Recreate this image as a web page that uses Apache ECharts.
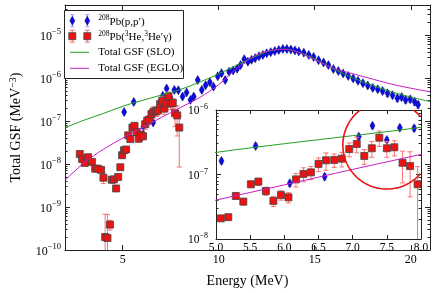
<!DOCTYPE html>
<html><head><meta charset="utf-8">
<script src="https://cdn.jsdelivr.net/npm/echarts@6/dist/echarts.min.js"></script>
<style>html,body{margin:0;padding:0;background:#fff}#c{width:436px;height:293px}</style>
</head><body><div id="c"></div>
<script>
// ---------------- data ----------------
const redE = [2.77,2.89,3.03,3.20,3.40,3.57,3.71,3.88,4.00,4.09,4.21,4.34,4.43,4.55,4.66,4.77,4.88,4.97,5.07,5.18,5.29,5.40,5.51,5.62,5.73,5.84,5.95,6.06,6.17,6.28,6.39,6.50,6.61,6.73,6.84,6.95,7.06,7.17,7.28,7.39,7.50,7.61,7.73,7.84,7.95];
const redV = [1.71e-8,1.31e-8,1.06e-8,1.44e-8,1.12e-8,7.8e-9,7.8e-9,7.3e-9,4.8e-9,2.0e-10,1.9e-10,3.9e-10,4.3e-9,4.4e-9,2.7e-9,5.0e-9,8.4e-9,1.6e-8,2.09e-8,2.18e-8,4.65e-8,3.8e-8,7.05e-8,7.75e-8,5.55e-8,3.9e-8,4.8e-8,4.43e-8,8.4e-8,1.02e-7,1.08e-7,1.46e-7,1.66e-7,1.68e-7,1.76e-7,2.48e-7,2.97e-7,1.94e-7,2.55e-7,3.72e-7,2.55e-7,2.64e-7,1.52e-7,1.35e-7,7.05e-8];
const redErr = [1.5e-9,1.5e-9,1.5e-9,2e-9,1.5e-9,1e-9,1e-9,1e-9,1.3e-9,4.8e-10,4.8e-10,1e-10,4e-10,4e-10,3e-10,5e-10,8e-10,1.5e-9,2e-9,2e-9,5e-9,4.5e-9,8e-9,1e-8,8e-9,7e-9,8e-9,8e-9,2e-8,2.5e-8,2.5e-8,3.5e-8,5e-8,4e-8,4.5e-8,6e-8,8e-8,5e-8,7e-8,1e-7,7e-8,7e-8,7.8e-8,9e-8,6.2e-8];

const blueE = [5.08,5.58,6.08,6.59,7.09,7.29,7.50,7.69,7.90,8.12,8.33,8.53,8.70,8.91,9.12,9.32,9.54,9.73,9.95,10.15,10.34,10.54,10.75,10.96,11.14,11.33,11.52,11.71,11.90,12.10,12.30,12.50,12.71,12.92,13.13,13.34,13.55,13.76,13.97,14.17,14.43,14.69,14.94,15.20,15.46,15.71,15.97,16.23,16.48,16.74,17.00,17.25,17.51,17.76,18.02,18.28,18.53,18.79,19.05,19.30,19.52,19.73,19.97,20.20,20.38];
const blueV = [1.62e-7,2.77e-7,7.3e-8,9.25e-8,3.86e-7,5.71e-7,3.43e-7,5.3e-7,5.2e-7,3.7e-7,4.6e-7,3.1e-7,3.7e-7,9.0e-7,5.3e-7,6.8e-7,8.0e-7,6.3e-7,1.1e-6,1.3e-6,9.0e-7,1.4e-6,1.5e-6,1.65e-6,2.0e-6,2.75e-6,2.4e-6,2.65e-6,2.9e-6,3.2e-6,3.45e-6,3.75e-6,4.0e-6,4.25e-6,4.5e-6,4.75e-6,4.75e-6,4.6e-6,4.4e-6,4.16e-6,3.9e-6,3.45e-6,3.1e-6,2.6e-6,2.3e-6,2.0e-6,1.62e-6,1.45e-6,1.28e-6,1.12e-6,9.8e-7,8.6e-7,7.6e-7,6.7e-7,5.9e-7,5.5e-7,5.0e-7,4.4e-7,4.0e-7,3.4e-7,3.6e-7,3.1e-7,3.2e-7,2.8e-7,2.4e-7];
const blueErr = [1.5e-8,2.5e-8,8e-9,1e-8,3.5e-8,5e-8,3e-8,5e-8,5e-8,3.5e-8,4e-8,3e-8,3.5e-8,8e-8,5e-8,6e-8,7e-8,6e-8,1e-7,1.2e-7,8e-8,1.3e-7,1.4e-7,1.5e-7,1.8e-7,2.5e-7,2.2e-7,2.4e-7,2.6e-7,2.9e-7,3.1e-7,3.4e-7,3.6e-7,3.8e-7,4e-7,4.3e-7,4.3e-7,4.1e-7,4e-7,3.7e-7,3.5e-7,3.1e-7,2.8e-7,2.3e-7,2.1e-7,1.8e-7,1.5e-7,1.3e-7,1.2e-7,1.1e-7,1e-7,9e-8,9e-8,8e-8,7e-8,7e-8,7e-8,7e-8,6e-8,6e-8,6e-8,5e-8,5e-8,5e-8,4e-8];

const curveE = [2,3,4,5,6,7,8,9,10,11,12,13,13.5,14,15,16,17,18,19,20,21];
const sloV   = [7.0e-8,1.05e-7,1.5e-7,2.2e-7,3.0e-7,4.0e-7,5.4e-7,8.0e-7,1.25e-6,2.05e-6,3.3e-6,4.6e-6,4.7e-6,4.2e-6,2.8e-6,1.62e-6,1.0e-6,6.8e-7,4.8e-7,3.6e-7,2.85e-7];
const egloV  = [4.2e-9,1.07e-8,2.2e-8,4.0e-8,6.9e-8,1.2e-7,2.05e-7,3.5e-7,7.0e-7,1.75e-6,3.5e-6,4.55e-6,4.65e-6,4.2e-6,2.65e-6,1.68e-6,1.25e-6,9.5e-7,7.2e-7,5.8e-7,4.8e-7];

const circleCenter = [[7.5, 2.86e-7]];

const xTicksMain = [5,10,15,20];
const yTicksMain = [1e-10,1e-9,1e-8,1e-7,1e-6,1e-5];
const yTicksInset = [1e-8,1e-7,1e-6];
const legendNames = ['{s|208}{b|Pb(p,p′)}','{s|208}{b|Pb(}{s|3}{b|He,}{s|3}{b|He′γ)}','Total GSF (SLO)','Total GSF (EGLO)'];

// ---------------- helpers ----------------
const FONT = 'Liberation Serif';
const MAIN = {xmin:2, xmax:21, ymin:1e-10, ymax:5e-5};
const INS = {xmin:5, xmax:8, ymin:1e-8, ymax:1e-6};
function minorTicks(lo, hi){
  const out=[];
  for(let k=Math.floor(Math.log10(lo)); k<=Math.ceil(Math.log10(hi)); k++){
    for(let m=2;m<=9;m++){ const v=m*Math.pow(10,k); if(v>lo && v<hi) out.push(v); }
  }
  return out;
}
const supRich = {
  b:{fontSize:12, fontFamily:FONT, color:'#000', verticalAlign:'bottom'},
  s:{fontSize:8.5, fontFamily:FONT, color:'#000', verticalAlign:'top', padding:[0,0,6,0]}
};
const supRichSmall = {
  b:{fontSize:11.5, fontFamily:FONT, color:'#000', verticalAlign:'bottom'},
  s:{fontSize:8, fontFamily:FONT, color:'#000', verticalAlign:'top', padding:[0,0,6,0]}
};
function powLabel(v){ const e=Math.round(Math.log10(v)); return '{b|10}{s|−'+(-e)+'}'; }
const LINE = {show:true, onZero:false, lineStyle:{color:'#222', width:1}};
const NOLINE = {show:false, onZero:false};
function ax(o){ return Object.assign({splitLine:{show:false}, minorTick:{show:false}, minorSplitLine:{show:false}, axisPointer:{show:false}}, o); }

function errSeries(xi, yi, E, V, Err, color, capHalf, lim, z){
  return {
    type:'custom', xAxisIndex:xi, yAxisIndex:yi, clip:true, z:z, silent:true,
    data:E.map((e,i)=>[e,V[i],Err[i]]),
    encode:{x:0,y:1},
    renderItem:function(params, api){
      const x=api.value(0), v=api.value(1), er=api.value(2);
      if(x<lim.xmin || x>lim.xmax) return null;
      let hiV=v+er, loV=v-er; let capHi=true, capLo=true;
      if(hiV>lim.ymax){hiV=lim.ymax; capHi=false;}
      if(!(loV>lim.ymin)){loV=lim.ymin; capLo=false;}
      const pH=api.coord([x,hiV]), pL=api.coord([x,loV]);
      const cx=pH[0];
      const st={stroke:color, lineWidth:1};
      const ch=[{type:'line', shape:{x1:cx,y1:pH[1],x2:cx,y2:pL[1]}, style:st}];
      if(capHi) ch.push({type:'line', shape:{x1:cx-capHalf,y1:pH[1],x2:cx+capHalf,y2:pH[1]}, style:st});
      if(capLo) ch.push({type:'line', shape:{x1:cx-capHalf,y1:pL[1],x2:cx+capHalf,y2:pL[1]}, style:st});
      return {type:'group', children:ch};
    }
  };
}
function seriesSet(xi, yi, lim, zb){
  return [
    errSeries(xi, yi, blueE, blueV, blueErr, '#9a9aff', 2, lim, zb),
    {type:'scatter', xAxisIndex:xi, yAxisIndex:yi, z:zb+1, silent:true, clip:true,
     data:blueE.map((e,i)=>[e,blueV[i]]), symbol:'diamond', symbolSize:[5,9],
     itemStyle:{color:'#0a0aee', borderColor:'#000060', borderWidth:0.5, opacity:1}},
    errSeries(xi, yi, redE, redV, redErr, '#ff7070', 2.5, lim, zb+2),
    {type:'scatter', xAxisIndex:xi, yAxisIndex:yi, z:zb+3, silent:true, clip:true,
     data:redE.map((e,i)=>[e,redV[i]]), symbol:'rect', symbolSize:7,
     itemStyle:{color:'#ee1111', borderColor:'#444', borderWidth:0.8, opacity:1}},
    {type:'line', xAxisIndex:xi, yAxisIndex:yi, z:zb+4, silent:true, smooth:0.35, showSymbol:false, clip:true,
     data:curveE.map((e,i)=>[e,sloV[i]]), lineStyle:{color:'#22a022', width:1}},
    {type:'line', xAxisIndex:xi, yAxisIndex:yi, z:zb+4, silent:true, smooth:0.35, showSymbol:false, clip:true,
     data:curveE.map((e,i)=>[e,egloV[i]]), lineStyle:{color:'#c81ec8', width:1}}
  ];
}

const tickSt = {lineStyle:{color:'#222', width:1}};
const xAxes = [
  ax({type:'value', gridIndex:0, position:'bottom', min:MAIN.xmin, max:MAIN.xmax, axisLine:LINE,
      axisTick:Object.assign({inside:true, length:5, customValues:xTicksMain}, tickSt),
      axisLabel:{customValues:xTicksMain, margin:4, fontFamily:FONT, fontSize:12, color:'#000'},
      name:'Energy (MeV)', nameLocation:'middle', nameGap:24,
      nameTextStyle:{fontFamily:FONT, fontSize:14, color:'#000'}}),
  ax({type:'value', gridIndex:0, position:'top', min:MAIN.xmin, max:MAIN.xmax, axisLine:LINE,
      axisTick:Object.assign({inside:true, length:5, customValues:xTicksMain}, tickSt),
      axisLabel:{show:false}}),
  ax({type:'value', gridIndex:1, position:'bottom', min:INS.xmin, max:INS.xmax, interval:0.5, z:11, axisLine:LINE,
      axisTick:Object.assign({inside:true, length:4}, tickSt),
      axisLabel:{margin:3, fontFamily:FONT, fontSize:11.5, color:'#000', formatter:v=>v.toFixed(1)}}),
  ax({type:'value', gridIndex:1, position:'top', min:INS.xmin, max:INS.xmax, interval:0.5, z:11, axisLine:LINE,
      axisTick:Object.assign({inside:true, length:4}, tickSt), axisLabel:{show:false}})
];
function yPair(grid, pos, lim, major, labels, z, extra){
  return [
    ax(Object.assign({type:'log', logBase:10, gridIndex:grid, position:pos, min:lim.ymin, max:lim.ymax, z:z, axisLine:LINE,
        axisTick:Object.assign({inside:true, length:5, customValues:major}, tickSt),
        axisLabel:labels}, extra||{})),
    ax({type:'log', logBase:10, gridIndex:grid, position:pos, min:lim.ymin, max:lim.ymax, z:z, axisLine:NOLINE,
        axisTick:Object.assign({inside:true, length:2.5, customValues:minorTicks(lim.ymin, lim.ymax)}, tickSt),
        axisLabel:{show:false}})
  ];
}
const yAxes = [].concat(
  yPair(0,'left',MAIN,yTicksMain,{customValues:yTicksMain, formatter:powLabel, rich:supRich, margin:4}, 0,
    {name:'Total GSF (MeV{s|−3})', nameLocation:'middle', nameGap:40,
     nameTextStyle:{fontFamily:FONT, fontSize:14, color:'#000',
       rich:{s:{fontSize:10, fontFamily:FONT, color:'#000', verticalAlign:'top', padding:[0,0,7,0]}}}}),
  yPair(0,'right',MAIN,yTicksMain,{show:false}, 0),
  yPair(1,'left',INS,yTicksInset,{customValues:yTicksInset, formatter:powLabel, rich:supRichSmall, margin:8}, 11),
  yPair(1,'right',INS,yTicksInset,{show:false}, 11)
);

// circle drawn around a data point, clipped to the inset plot area
function circleRender(params, api){
  const p=api.coord([api.value(0), api.value(1)]);
  const cs=params.coordSys, r=44;
  const inside=(x,y)=> x>=cs.x && x<=cs.x+cs.width && y>=cs.y && y<=cs.y+cs.height;
  const N=240, pts=[];
  for(let i=0;i<N;i++){ const a=i/N*2*Math.PI; pts.push([p[0]+r*Math.cos(a), p[1]+r*Math.sin(a)]); }
  let start=pts.findIndex(q=>!inside(q[0],q[1]));
  const runs=[];
  if(start<0){ runs.push(pts.concat([pts[0]])); }
  else{
    let cur=[];
    for(let k=1;k<=N;k++){
      const q=pts[(start+k)%N];
      if(inside(q[0],q[1])) cur.push(q); else { if(cur.length>1) runs.push(cur); cur=[]; }
    }
    if(cur.length>1) runs.push(cur);
  }
  return {type:'group', children:runs.map(run=>({type:'polyline', shape:{points:run}, style:{fill:null, stroke:'#ee1111', lineWidth:1.6}}))};
}

const series = [].concat(
  seriesSet(0, 0, MAIN, 2),
  seriesSet(2, 4, INS, 12),
  [{type:'custom', xAxisIndex:2, yAxisIndex:4, clip:true, z:18, silent:true,
    data:circleCenter, encode:{x:0,y:1}, renderItem:circleRender}]
);

// legend (graphic)
const LX=64.5, LY=10.5;
const rows=[20.7,36.2,52.3,68.3];
const g=[{type:'rect', z:100, shape:{x:LX,y:LY,width:119,height:68}, style:{fill:'#fff', stroke:'#222', lineWidth:1}}];
[72.3,87.3].forEach(x=>{
  const y=rows[0];
  g.push({type:'line', z:101, shape:{x1:x,y1:y-6,x2:x,y2:y+6}, style:{stroke:'#9a9aff', lineWidth:1}});
  g.push({type:'line', z:101, shape:{x1:x-2,y1:y-6,x2:x+2,y2:y-6}, style:{stroke:'#9a9aff', lineWidth:1}});
  g.push({type:'line', z:101, shape:{x1:x-2,y1:y+6,x2:x+2,y2:y+6}, style:{stroke:'#9a9aff', lineWidth:1}});
  g.push({type:'polygon', z:102, shape:{points:[[x,y-4.5],[x+2.5,y],[x,y+4.5],[x-2.5,y]]}, style:{fill:'#0a0aee', stroke:'#000060', lineWidth:0.5}});
  const y2=rows[1];
  g.push({type:'line', z:101, shape:{x1:x,y1:y2-6,x2:x,y2:y2+6}, style:{stroke:'#ff7070', lineWidth:1}});
  g.push({type:'line', z:101, shape:{x1:x-2.5,y1:y2-6,x2:x+2.5,y2:y2-6}, style:{stroke:'#ff7070', lineWidth:1}});
  g.push({type:'line', z:101, shape:{x1:x-2.5,y1:y2+6,x2:x+2.5,y2:y2+6}, style:{stroke:'#ff7070', lineWidth:1}});
  g.push({type:'rect', z:102, shape:{x:x-3.5,y:y2-3.5,width:7,height:7}, style:{fill:'#ee1111', stroke:'#444', lineWidth:0.8}});
});
g.push({type:'line', z:101, shape:{x1:70,y1:rows[2],x2:89,y2:rows[2]}, style:{stroke:'#22a022', lineWidth:1}});
g.push({type:'line', z:101, shape:{x1:70,y1:rows[3],x2:89,y2:rows[3]}, style:{stroke:'#c81ec8', lineWidth:1}});
const legRich = {
  b:{fontSize:11, fontFamily:FONT, fill:'#000', color:'#000', verticalAlign:'bottom'},
  s:{fontSize:7.5, fontFamily:FONT, fill:'#000', color:'#000', verticalAlign:'top', padding:[0,0,5,0]}
};
legendNames.forEach((t,i)=>{
  g.push({type:'text', z:103, x:98.3, y:rows[i], style:{text:t, rich:legRich, fontSize:11, fontFamily:FONT, fill:'#000',
    align:'left', verticalAlign:'middle', textAlign:'left', textVerticalAlign:'middle'}});
});

const option = {
  animation:false, backgroundColor:'#fff',
  grid:[
    {left:60, top:5, width:370, height:248, show:false},
    {left:216, top:110, width:205, height:129, show:true, backgroundColor:'#fff', borderWidth:0, z:10}
  ],
  xAxis:xAxes, yAxis:yAxes, series:series, graphic:{elements:g}
};
const chart = echarts.init(document.getElementById('c'), null, {renderer:'canvas'});
chart.setOption(option);
</script></body></html>
